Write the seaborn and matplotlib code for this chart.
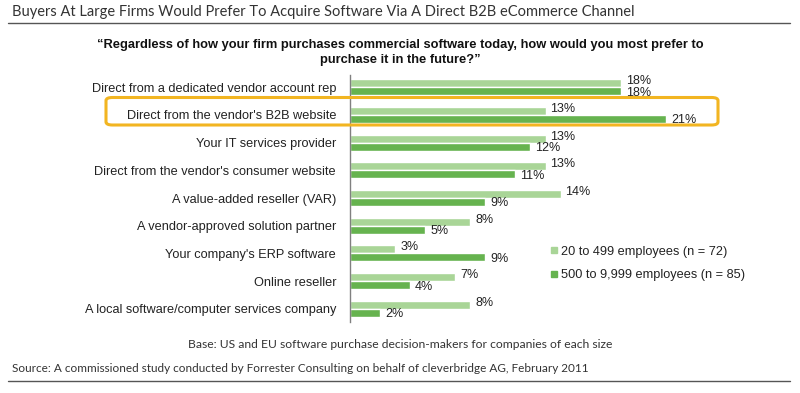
import matplotlib
matplotlib.use("Agg")
import matplotlib.pyplot as plt
import seaborn as sns
import pandas as pd
from matplotlib.patches import FancyBboxPatch
from matplotlib.lines import Line2D

categories = [
    "Direct from a dedicated vendor account rep",
    "Direct from the vendor's B2B website",
    "Your IT services provider",
    "Direct from the vendor's consumer website",
    "A value-added reseller (VAR)",
    "A vendor-approved solution partner",
    "Your company's ERP software",
    "Online reseller",
    "A local software/computer services company",
]
small_firms = [18, 13, 13, 13, 14, 8, 3, 7, 8]
large_firms = [18, 21, 12, 11, 9, 5, 9, 4, 2]
series_names = ["20 to 499 employees (n = 72)", "500 to 9,999 employees (n = 85)"]
colors = ["#a9d597", "#66b34f"]

df = pd.DataFrame({
    "category": categories * 2,
    "value": small_firms + large_firms,
    "group": [series_names[0]] * len(categories) + [series_names[1]] * len(categories),
})

sns.set_theme(style="white")
plt.rcParams['font.family'] = ['Liberation Sans', 'DejaVu Sans']

fig = plt.figure(figsize=(8, 3.93), dpi=100)
ax = fig.add_axes([0.4375, 0.181, 0.47, 0.628])

sns.barplot(data=df, y="category", x="value", hue="group", order=categories,
            hue_order=series_names, palette=colors, width=0.58, saturation=1,
            orient="h", ax=ax, legend=False)

ax.set_xlim(0, 25)
ax.set_ylim(8.47, -0.44)
ax.set_xlabel("")
ax.set_ylabel("")
ax.set_xticks([])
for s in ["top", "right", "bottom"]:
    ax.spines[s].set_visible(False)
ax.spines["left"].set_color("#808080")
ax.spines["left"].set_linewidth(1.0)
ax.tick_params(axis="y", length=0, pad=10, labelsize=9.2, labelcolor="#222222")

for ci, cont in enumerate(ax.containers):
    dy = 1.5 if ci == 0 else -1.0
    for bar in cont:
        w = bar.get_width()
        yc = bar.get_y() + bar.get_height() / 2
        ax.annotate(f"{int(round(w))}%", (w, yc), xytext=(3.6, dy),
                    textcoords="offset points", va="center", ha="left",
                    fontsize=9, color="#222222")

# highlight box around the B2B website row
box = FancyBboxPatch((106 / 800, 1 - 125 / 393), (718 - 106) / 800, (125 - 97.5) / 393,
                     boxstyle="round,pad=0,rounding_size=0.008",
                     transform=fig.transFigure, fill=False,
                     edgecolor="#f2b521", linewidth=2.2, zorder=10)
fig.patches.append(box)

# legend
handles = [Line2D([0], [0], marker="s", linestyle="", markersize=5,
                  markerfacecolor=c, markeredgecolor=c) for c in colors]
fig.legend(handles, series_names, loc="upper left",
           bbox_to_anchor=(0.672, 1 - 234 / 393), frameon=False,
           fontsize=9.2, handletextpad=0.1, labelspacing=0.9,
           handlelength=0.8, labelcolor="#222222")

# titles and notes
tfont = ['Lato', 'DejaVu Sans']
fig.text(12 / 800, 1 - 12 / 393, "Buyers At Large Firms Would Prefer To Acquire Software Via A Direct B2B eCommerce Channel",
         fontsize=10.5, family=tfont, color="#333333", va="center", ha="left")
fig.add_artist(Line2D([8 / 800, 790 / 800], [1 - 23 / 393, 1 - 23 / 393],
                      transform=fig.transFigure, color="#555555", linewidth=1.0))
fig.text(0.5, 1 - 45 / 393, "\u201cRegardless of how your firm purchases commercial software today, how would you most prefer to",
         fontsize=9.3, fontweight="bold", ha="center", va="center", color="#111111")
fig.text(0.5, 1 - 60 / 393, "purchase it in the future?\u201d",
         fontsize=9.3, fontweight="bold", ha="center", va="center", color="#111111")
fig.text(0.5, 1 - 344 / 393, "Base: US and EU software purchase decision-makers for companies of each size",
         fontsize=8.7, family=tfont, ha="center", va="center", color="#333333")
fig.text(12 / 800, 1 - 369 / 393, "Source: A commissioned study conducted by Forrester Consulting on behalf of cleverbridge AG, February 2011",
         fontsize=8.5, family=tfont, ha="left", va="center", color="#333333")
fig.add_artist(Line2D([8 / 800, 790 / 800], [1 - 381 / 393, 1 - 381 / 393],
                      transform=fig.transFigure, color="#555555", linewidth=1.0))

fig.savefig("out.png", dpi=100)
